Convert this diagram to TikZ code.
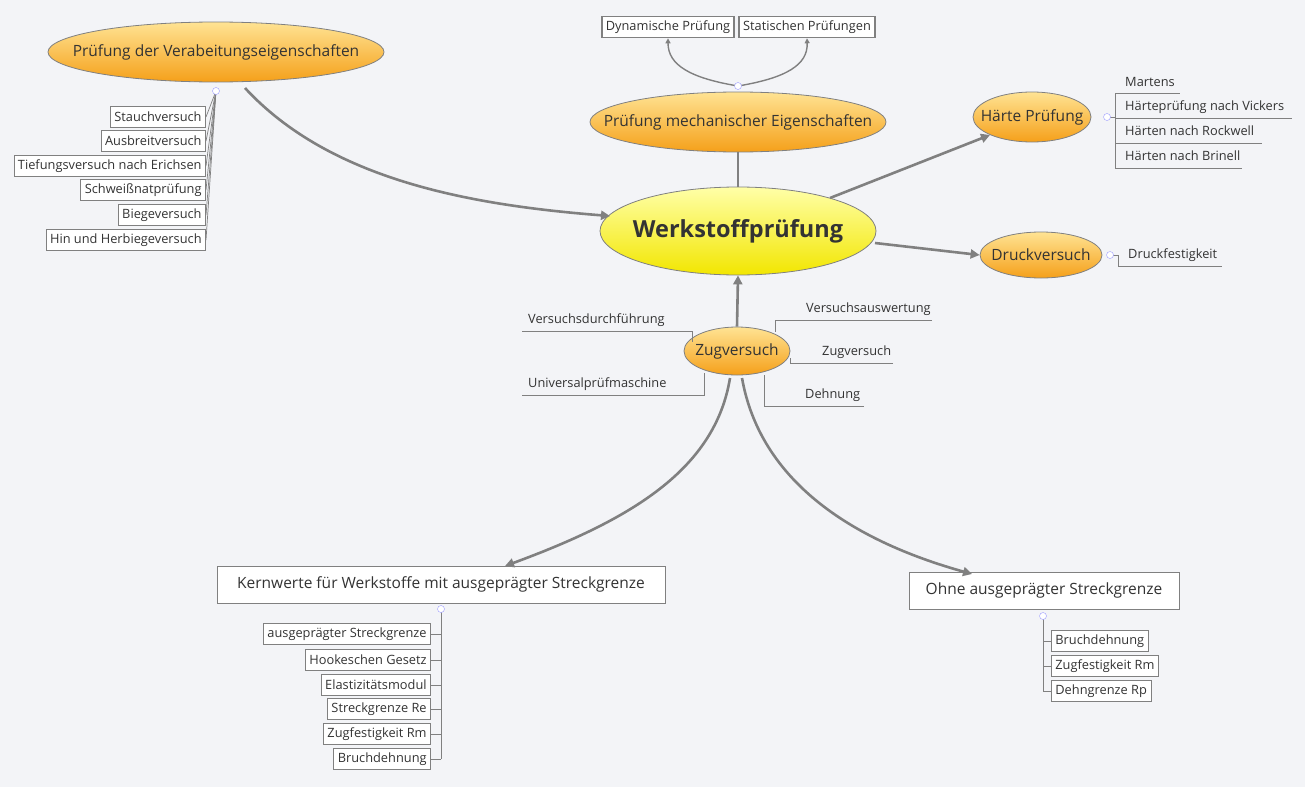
\documentclass[tikz,border=0pt]{standalone}
\usepackage{fontspec}
\setmainfont{Open Sans}
\usetikzlibrary{shapes.geometric,arrows.meta}
\definecolor{bg}{HTML}{F3F4F7}
\definecolor{ln}{HTML}{808080}
\definecolor{otop}{HTML}{FFE393}
\definecolor{obot}{HTML}{F5A01A}
\definecolor{ytop}{HTML}{FFFFA8}
\definecolor{ybot}{HTML}{F2E600}
\definecolor{txt}{HTML}{333333}
\begin{document}
\begin{tikzpicture}[x=1pt,y=-1pt,
  ov/.style={ellipse,draw=ln,line width=0.8pt,top color=otop,bottom color=obot,inner sep=0pt,label={[text=txt,font=\fontsize{15.5}{17}\selectfont]center:#1}},
  bx/.style={draw=ln,line width=0.8pt,fill=white,text=txt,font=\fontsize{12.8}{14}\selectfont,minimum height=21pt,inner sep=4pt},
  big/.style={draw=ln,line width=0.8pt,fill=white,text=txt,font=\fontsize{15.5}{17}\selectfont,inner sep=0pt},
  tl/.style={text=txt,font=\fontsize{12.8}{14}\selectfont,inner sep=0pt},
  con/.style={draw=ln,line width=2.6pt,-{Triangle[length=9pt,width=9pt]}},
  thin/.style={draw=ln,line width=0.7pt},
  dot/.style={circle,draw=blue!40,fill=white,minimum size=7pt,inner sep=0pt}]
\fill[bg] (0,0) rectangle (1305,787);
\useasboundingbox (0,0) rectangle (1305,787);
% main
\node[ellipse,draw=ln,line width=0.8pt,top color=ytop,bottom color=ybot,minimum width=276pt,minimum height=88pt,inner sep=0pt,label={[font=\bfseries\fontsize{23.5}{26}\selectfont,text=txt]center:Werkstoffprüfung}] (W) at (738,231) {};
% Verarbeitung
\node[ov=Prüfung der Verabeitungseigenschaften,minimum width=336pt,minimum height=60pt] (V) at (216,52) {};
\coordinate (vd) at (216,91);
\foreach \n/\y/\t in {v1/117/Stauchversuch,v2/141/Ausbreitversuch,v3/166/Tiefungsversuch nach Erichsen,v4/190/Schweißnatprüfung,v5/215/Biegeversuch,v6/240/Hin und Herbiegeversuch}{
  \node[bx,anchor=east] (\n) at (206,\y) {\t};
  \draw[thin] (\n.east) -- (vd);}
\node[dot] at (vd) {};
\draw[con] (245,88) .. controls (330,180) and (470,205) .. (610,216);
% mechanisch
\node[ov=Prüfung mechanischer Eigenschaften,minimum width=296pt,minimum height=60pt] (M) at (738,122) {};
\node[bx,line width=1.6pt,minimum width=131pt] (D) at (668,27) {Dynamische Prüfung};
\node[bx,line width=1.6pt,minimum width=135pt] (S) at (807,27) {Statischen Prüfungen};
\coordinate (md) at (738,86);
\draw[thin,line width=1.4pt,-{Triangle[length=5pt,width=5pt]}] (md) .. controls (690,78) and (668,65) .. (D.south);
\draw[thin,line width=1.4pt,-{Triangle[length=5pt,width=5pt]}] (md) .. controls (786,78) and (808,65) .. (S.south);
\node[dot] at (md) {};
\draw[draw=ln,line width=1.4pt] (M.south) -- (W.north);
% Härte
\node[ov=Härte Prüfung,minimum width=118pt,minimum height=50pt] (H) at (1032,117) {};
\draw[con] (830,198) -- (H.south west);
\coordinate (hd) at (1107,117);
\foreach \y/\t in {82/Martens,106/Härteprüfung nach Vickers,131/Härten nach Rockwell,156/Härten nach Brinell}{
  \node[tl,anchor=base west] at (1125,\y+4) {\t};}
\draw[thin] (1115,93) -- (1180,93);
\draw[thin] (1115,118) -- (1292,118);
\draw[thin] (1115,143) -- (1262,143);
\draw[thin] (1115,168) -- (1242,168);
\draw[thin] (1115,93) -- (1115,168);
\draw[thin] (hd) -- (1115,117);
\node[dot] at (hd) {};
% Druck
\node[ov=Druckversuch,minimum width=122pt,minimum height=46pt] (Dr) at (1041,255) {};
\draw[con] (875,243) -- (Dr.west);
\node[tl,anchor=base west] at (1128,258) {Druckfestigkeit};
\draw[thin] (1110,255) -- (1118,255) -- (1118,266) -- (1222,266);
\node[dot] at (1110,255) {};
% Zugversuch
\node[ov=Zugversuch,minimum width=106pt,minimum height=48pt] (Z) at (737,351) {};
\draw[con] (Z.north) -- (W.south);
\node[tl,anchor=base west] at (528,323) {Versuchsdurchführung};
\draw[thin] (522,331) -- (692,331) -- (692,342);
\node[tl,anchor=base west] at (528,387) {Universalprüfmaschine};
\draw[thin] (522,395) -- (704,395) -- (704,373);
\node[tl,anchor=base west] at (806,312) {Versuchsauswertung};
\draw[thin] (932,320) -- (775,320) -- (775,332);
\node[tl,anchor=base west] at (822,355) {Zugversuch};
\draw[thin] (893,363) -- (790,363) -- (790,358);
\node[tl,anchor=base west] at (805,398) {Dehnung};
\draw[thin] (864,406) -- (764,406) -- (764,375);
% Kernwerte
\node[big,minimum width=448pt,minimum height=37pt] (K) at (441,584.5) {Kernwerte für Werkstoffe mit ausgeprägter Streckgrenze};
\draw[con] (730,378) .. controls (715,470) and (630,520) .. (505,566);
\coordinate (kd) at (441,609);
\draw[thin] (kd) -- (441,759);
\foreach \n/\y/\t in {k1/634/ausgeprägter Streckgrenze,k2/660/Hookeschen Gesetz,k3/685/Elastizitätsmodul,k4/709/Streckgrenze Re,k5/734/Zugfestigkeit Rm,k6/759/Bruchdehnung}{
  \node[bx,anchor=east] (\n) at (431,\y) {\t};
  \draw[thin] (\n.east) -- (441,\y);}
\node[dot] at (kd) {};
% Ohne
\node[big,minimum width=270pt,minimum height=37pt] (O) at (1044,590.5) {Ohne ausgeprägter Streckgrenze};
\draw[con] (742,378) .. controls (760,480) and (850,540) .. (972,574);
\coordinate (od) at (1043,616);
\draw[thin] (od) -- (1043,691);
\foreach \n/\y/\t in {o1/641/Bruchdehnung,o2/666/Zugfestigkeit Rm,o3/691/Dehngrenze Rp}{
  \node[bx,anchor=west] (\n) at (1051,\y) {\t};
  \draw[thin] (\n.west) -- (1043,\y);}
\node[dot] at (od) {};
\end{tikzpicture}
\end{document}
